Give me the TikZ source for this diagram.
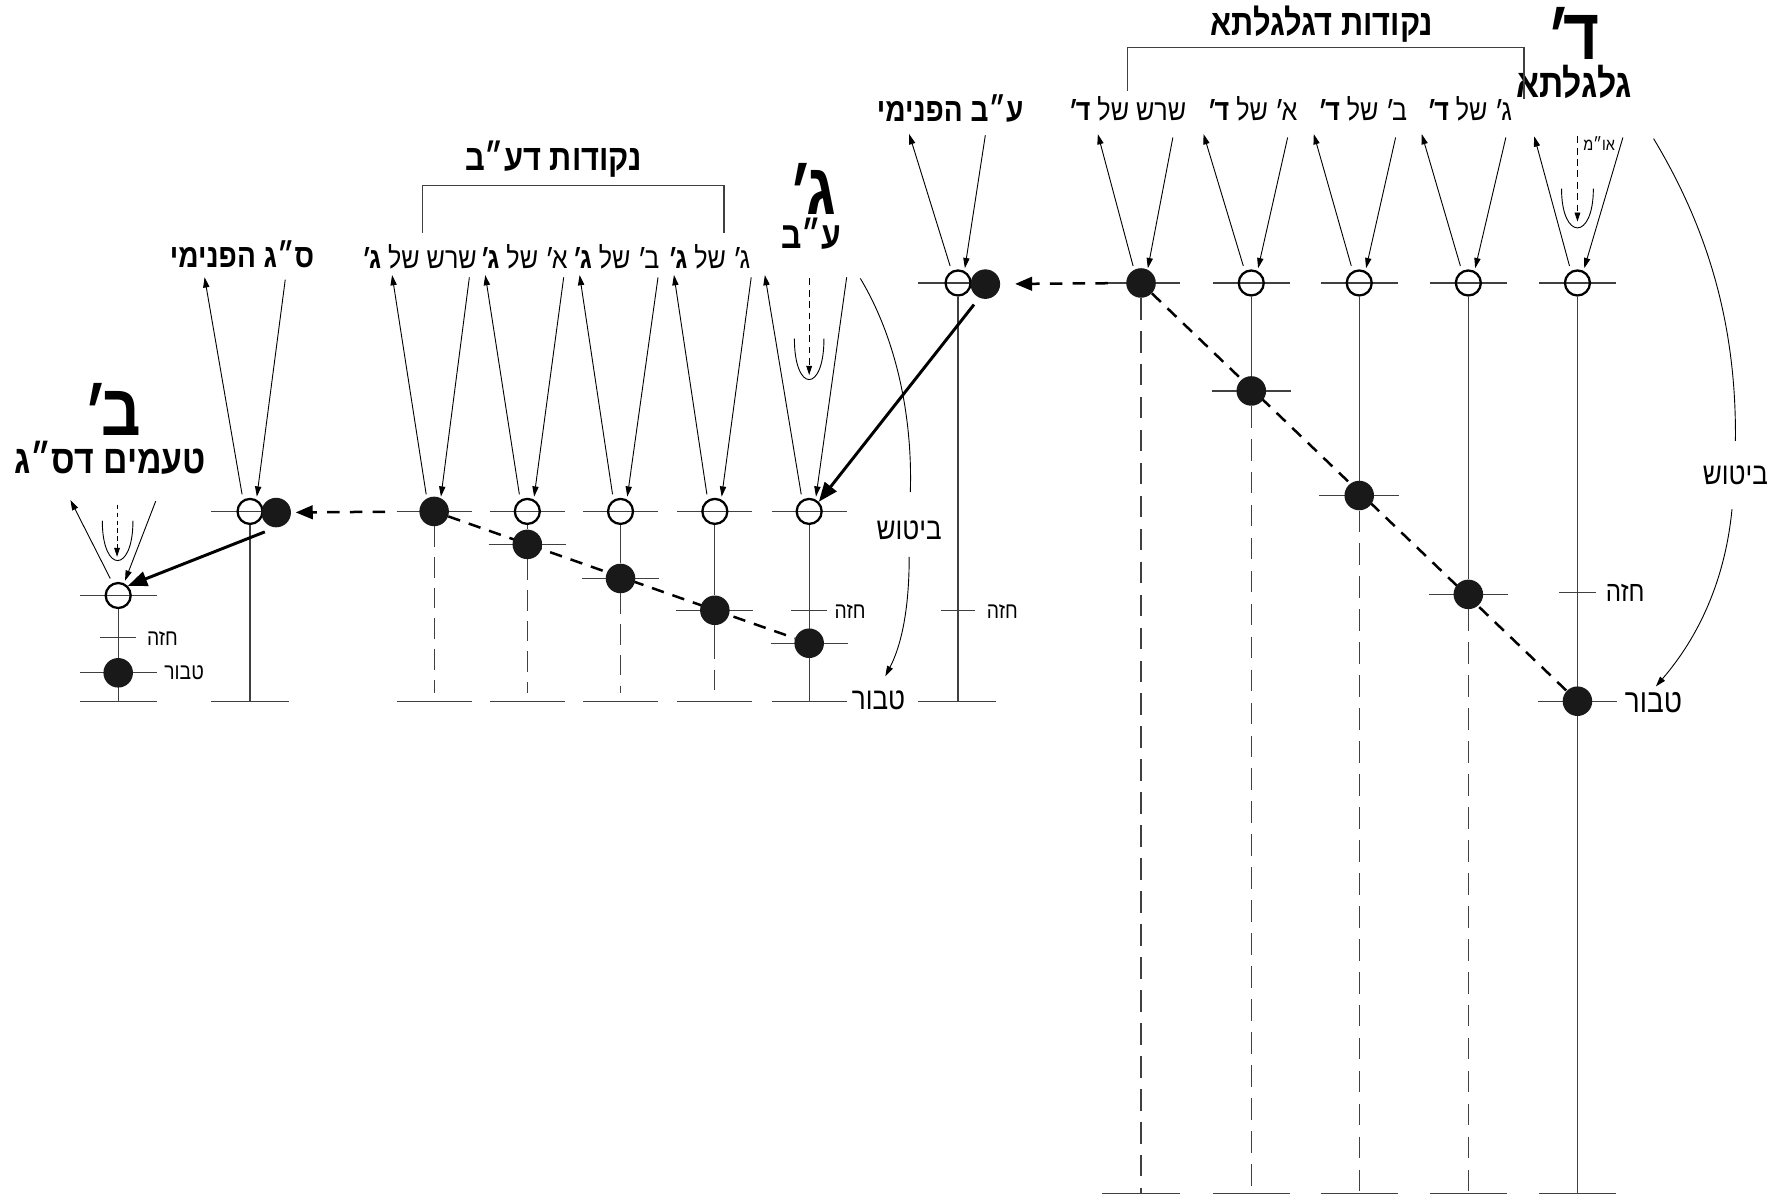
\documentclass[tikz,border=0pt]{standalone}
\usepackage{fontspec}
\usetikzlibrary{arrows.meta,calc}
\newfontfamily\heb[Script=Hebrew,FakeStretch=0.85]{Liberation Sans}
\TeXXeTstate=1
\newcommand\RL[1]{\beginR#1\endR}
\newcommand\gr{\kern-.1em\raisebox{-.1em}{׳}}
\pgfdeclarelayer{bg}
\pgfsetlayers{bg,main}
\newcommand\hk[2]{\draw[tkl] ($(#1)+(-#2,0)$) -- ($(#1)+(#2,0)$);}
\newcommand\mkV[5]{%
  \coordinate (#1-lt) at (#2,#3);
  \coordinate (#1-rt) at (#4,#5);
  \draw[ar] ($(#1)+(-7,-15)$) -- (#1-lt);
  \draw[ar] (#1-rt) -- ($(#1)+(6,-13)$);}
\begin{document}
\begin{tikzpicture}[x=1pt,y=-1pt,
  tkl/.style={line width=1pt,draw=black!75},
  vd/.style={tkl,dash pattern=on 19pt off 10pt},
  oc/.style={circle,draw=black,line width=2pt,minimum size=22pt,inner sep=0pt},
  fc/.style={circle,fill=black!90,minimum size=26pt,inner sep=0pt},
  ar/.style={line width=0.8pt,-{Triangle[length=9pt,width=5.5pt]}},
  thk/.style={line width=2.6pt,-{Triangle[length=17pt,width=13pt]}},
  diag/.style={line width=2.2pt,dash pattern=on 11pt off 8pt},
  harr/.style={line width=2.2pt,dash pattern=on 11pt off 9pt,-{Triangle[length=15pt,width=12pt]}},
  sdash/.style={line width=0.8pt,dash pattern=on 6pt off 4pt,-{Triangle[length=8pt,width=5pt]}},
  thinl/.style={line width=0.8pt},
  lab/.style={font=\heb\fontsize{26}{26}\selectfont,inner sep=0pt,anchor=base},
  blab/.style={font=\heb\bfseries\fontsize{29}{29}\selectfont,inner sep=0pt,anchor=base},
  ttl/.style={font=\heb\bfseries\fontsize{32}{32}\selectfont,inner sep=0pt,anchor=base},
  bigl/.style={font=\heb\bfseries\fontsize{64}{64}\selectfont,inner sep=0pt,anchor=base},
  subl/.style={font=\heb\bfseries\fontsize{35}{35}\selectfont,inner sep=0pt,anchor=base},
  note/.style={font=\heb\fontsize{#1}{#1}\selectfont,inner sep=0pt,anchor=base},
]
\useasboundingbox (0,0) rectangle (1568,1054);

% ---------- circles ----------
% D group (gulgalta)
\node[fc] (D0) at (1004,249) {};
\node[oc] (D1) at (1101,249) {};
\node[oc] (D2) at (1196,249) {};
\node[oc] (D3) at (1292,249) {};
\node[oc] (D4) at (1388,249) {};
\node[fc] (D1f) at (1101,344) {};
\node[fc] (D2f) at (1196,436) {};
\node[fc] (D3f) at (1292,523) {};
\node[fc] (D4f) at (1388,617) {};
% AB pnimi
\node[oc] (AB) at (843,249) {};
\node[fc] (ABf) at (867,250) {};
% G group
\node[fc] (G0) at (382,450) {};
\node[oc] (G1) at (464,450) {};
\node[oc] (G2) at (546,450) {};
\node[oc] (G3) at (629,450) {};
\node[oc] (G4) at (712,450) {};
\node[fc] (G1f) at (464,479) {};
\node[fc] (G2f) at (546,509) {};
\node[fc] (G3f) at (629,537) {};
\node[fc] (G4f) at (712,566) {};
% SG pnimi
\node[oc] (SG) at (220,450) {};
\node[fc] (SGf) at (243,451) {};
% B group
\node[oc] (B) at (104,524) {};
\node[fc] (Bf) at (104,592) {};

% ---------- texts ----------
\node[ttl] (tDt) at (1163,31) {\RL{נקודות דגלגלתא}};
\node[bigl] (tDbig) at (1384,52) {\RL{ד\gr{}}};
\node[subl] (tDsub) at (1385,86) {\RL{גלגלתא}};
\node[lab] (tD0) at (992,106) {\RL{שרש של {\bfseries ד\gr{}}}};
\node[lab] (tD1) at (1102,106) {\RL{א\gr{} של {\bfseries ד\gr{}}}};
\node[lab] (tD2) at (1199,106) {\RL{ב\gr{} של {\bfseries ד\gr{}}}};
\node[lab] (tD3) at (1293,106) {\RL{ג\gr{} של {\bfseries ד\gr{}}}};
\node[note=15,anchor=base west] (tOM) at (1393,132) {\RL{או״מ}};
\node[note=27] (tDbit) at (1527,426) {\RL{ביטוש}};
\node[note=25] (tDch) at (1430,529) {\RL{חזה}};
\node[note=29] (tDtb) at (1455,627) {\RL{טבור}};

\node[blab] (tAB) at (836,107) {\RL{ע״ב הפנימי}};
\node[note=20] (tABch) at (882,544) {\RL{חזה}};

\node[ttl] (tGt) at (487,150) {\RL{נקודות דע״ב}};
\node[bigl] (tGbig) at (715,189) {\RL{ג\gr{}}};
\node[subl,font=\heb\bfseries\fontsize{33}{33}\selectfont] (tGsub) at (714,219) {\RL{ע״ב}};
\node[lab] (tG0) at (369,236) {\RL{שרש של {\bfseries ג\gr{}}}};
\node[lab] (tG1) at (461,236) {\RL{א\gr{} של {\bfseries ג\gr{}}}};
\node[lab] (tG2) at (542,236) {\RL{ב\gr{} של {\bfseries ג\gr{}}}};
\node[lab] (tG3) at (624,236) {\RL{ג\gr{} של {\bfseries ג\gr{}}}};
\node[note=27] (tGbit) at (800,475) {\RL{ביטוש}};
\node[note=20] (tGch) at (748,544) {\RL{חזה}};
\node[note=27] (tGtb) at (773,624) {\RL{טבור}};

\node[blab] (tSG) at (213,235) {\RL{ס״ג הפנימי}};

\node[bigl] (tBbig) at (99,383) {\RL{ב\gr{}}};
\node[subl] (tBsub) at (97,417) {\RL{טעמים דס״ג}};
\node[note=20] (tBch) at (143,568) {\RL{חזה}};
\node[note=20] (tBtb) at (162,598) {\RL{טבור}};

% ---------- brackets ----------
\draw[tkl] (992,80) -- (992,42) -- (1341,42) -- (1341,87);
\draw[tkl] (372,205) -- (372,163) -- (637,163) -- (637,205);

% ---------- V arrows ----------
\mkV{D0}{966}{118}{1032}{121}
\mkV{D1}{1059}{118}{1133}{121}
\mkV{D2}{1156}{118}{1228}{121}
\mkV{D3}{1251}{118}{1325}{121}
\mkV{D4}{1350}{120}{1428}{121}
\mkV{AB}{800}{118}{867}{119}
\mkV{G0}{345}{242}{413}{244}
\mkV{G1}{427}{242}{496}{244}
\mkV{G2}{510}{242}{579}{244}
\mkV{G3}{593}{242}{661}{244}
\mkV{G4}{673}{242}{745}{244}
\mkV{SG}{180}{244}{251}{246}
\mkV{B}{62}{440}{137}{441}

% small dashed arrows and cups
\coordinate (omA) at (1388,120); \coordinate (omB) at (1388,195);
\draw[sdash] (omA) -- (omB);
\draw[thinl] (1374,166) .. controls (1374,212) and (1402,212) .. (1402,166);
\coordinate (gA) at (712,245); \coordinate (gB) at (712,330);
\draw[sdash] (gA) -- (gB);
\draw[thinl] (699,298) .. controls (699,346) and (725,346) .. (725,298);
\coordinate (bA) at (103,444); \coordinate (bB) at (103,490);
\draw[sdash,dash pattern=on 4pt off 3pt] (bA) -- (bB);
\draw[thinl] (90,458) .. controls (90,505) and (117,505) .. (117,458);

% bitush curves
\coordinate (bD1) at (1455,122); \coordinate (bD2) at (1527,388);
\coordinate (bD3) at (1524,448); \coordinate (bD4) at (1457,604);
\draw[thinl] (bD1) .. controls (1505,205) and (1528,290) .. (bD2);
\draw[ar] (bD3) .. controls (1518,510) and (1495,560) .. (bD4);
\coordinate (bG1) at (757,245); \coordinate (bG2) at (801,433);
\coordinate (bG3) at (800,490); \coordinate (bG4) at (779,595);
\draw[thinl] (bG1) .. controls (790,300) and (803,370) .. (bG2);
\draw[ar] (bG3) .. controls (800,540) and (792,570) .. (bG4);

% thick arrows
\draw[thk] ($(ABf)+(-10,18)$) -- (G4.north east);
\draw[thk] ($(SGf)+(-10,17)$) -- (B.north east);
% dashed horizontal arrows
\draw[harr,shorten <=16pt,shorten >=13pt] (D0) -- (ABf);
\draw[harr,shorten <=30pt,shorten >=4pt] (G0) -- (SGf);

% ---------- background lines ----------
\begin{pgfonlayer}{bg}
\coordinate (botD) at (0,1050);
\coordinate (botG) at (0,610);
\coordinate (botG2) at (0,617);
% D group
\foreach \n in {D0,D1,D2,D3,D4} {\hk{\n}{34} \hk{\n |- botD}{34}}
\foreach \n in {D1f,D2f,D3f,D4f} {\hk{\n}{35}}
\hk{1388,521}{16}
\draw[vd] (D0) -- (D0 |- botD);
\draw[tkl] (D1) -- (D1f); \draw[vd] (D1f) -- (D1f |- botD);
\draw[tkl] (D2) -- (D2f); \draw[vd] (D2f) -- (D2f |- botD);
\draw[tkl] (D3) -- (D3f); \draw[vd] (D3f) -- (D3f |- botD);
\draw[tkl] (D4) -- (D4 |- botD);
\draw[diag] (D0) -- (D4f);
% AB
\draw[tkl] ($(AB)+(-35,0)$) -- ($(AB)+(25,0)$);
\draw[tkl] (AB) -- (AB |- botG2);
\hk{843,537}{15}
\draw[tkl] (808,617) -- (876,617);
% G group
\foreach \n in {G0,G1,G2,G3,G4} {\hk{\n}{33} \hk{\n |- botG2}{33}}
\foreach \n in {G1f,G2f,G3f,G4f} {\hk{\n}{34}}
\hk{712,537}{16}
\draw[vd,dash pattern=on 18pt off 9pt] (G0) -- (G0 |- botG);
\draw[tkl] (G1) -- (G1f); \draw[vd,dash pattern=on 18pt off 9pt] (G1f) -- (G1f |- botG);
\draw[tkl] (G2) -- (G2f); \draw[vd,dash pattern=on 18pt off 9pt] (G2f) -- (G2f |- botG);
\draw[tkl] (G3) -- (G3f); \draw[vd,dash pattern=on 30pt off 9pt on 18pt off 9pt] (G3f) -- (G3f |- botG);
\draw[tkl] (G4) -- (G4 |- botG2);
\draw[diag] (G0) -- (G4f);
% SG
\draw[tkl] ($(SG)+(-34,0)$) -- ($(SG)+(20,0)$);
\draw[tkl] (SG) -- (SG |- botG2);
\hk{SG |- botG2}{34}
% B
\hk{B}{34} \hk{Bf}{34} \hk{104,561}{16} \hk{B |- botG2}{34}
\draw[tkl] (B) -- (B |- botG2);
\end{pgfonlayer}
\end{tikzpicture}
\end{document}
